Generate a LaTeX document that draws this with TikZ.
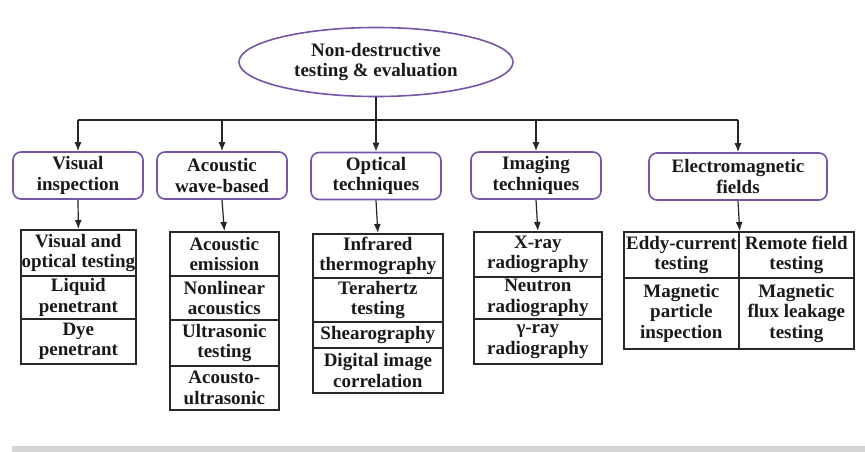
\documentclass[tikz,border=0pt]{standalone}
\usepackage{fontspec}
\setmainfont{Liberation Serif}
\usetikzlibrary{arrows.meta,shapes.geometric}
\definecolor{catpurple}{RGB}{118,84,168}
\definecolor{cellline}{RGB}{40,40,40}
\begin{document}
\begin{tikzpicture}[x=1pt,y=-1pt,
  txt/.style={font=\fontsize{19}{20.5}\selectfont\bfseries, align=center, text=black!90},
  rootnode/.style={txt, ellipse, draw=catpurple, line width=1.6pt, minimum width=274pt, minimum height=69pt, inner sep=0pt},
  catbox/.style={txt, draw=catpurple, line width=1.6pt, rounded corners=8pt, minimum height=47pt, inner sep=0pt},
  cell/.style={txt, draw=cellline, line width=1.7pt, inner sep=0pt, anchor=north west},
  conn/.style={draw=black!85, line width=1.2pt},
  arr/.style={conn, -{Latex[length=9pt,width=7pt]}}
]
\useasboundingbox (0,0) rectangle (865,452);
\fill[gray!32] (12,446) rectangle (865,452);

% root
\node[rootnode] (root) at (376,62) {Non-destructive\\testing \& evaluation};

% categories
\node[catbox, minimum width=130pt] (cVis) at (78,175.5) {Visual\\inspection};
\node[catbox, minimum width=130pt] (cAco) at (222,175.5) {Acoustic\\wave-based};
\node[catbox, minimum width=130pt] (cOpt) at (376,176) {Optical\\techniques};
\node[catbox, minimum width=130pt] (cImg) at (536,175.5) {Imaging\\techniques};
\node[catbox, minimum width=178pt] (cEM) at (738,176.5) {Electromagnetic\\fields};

% bus
\coordinate (busL) at (78,120);
\coordinate (busR) at (738,120);
\draw[conn] (root.south) -- (root.south |- busL);
\draw[conn] (busL) -- (busR);
\foreach \c in {cVis,cAco,cOpt,cImg,cEM}
  \draw[arr] (\c.north |- busL) -- (\c.north);

% Visual table
\node[cell, minimum width=115pt, minimum height=46pt] (v1) at (20,229) {Visual and\\optical testing};
\node[cell, minimum width=115pt, minimum height=43pt] (v2) at (20,275) {Liquid\\penetrant};
\node[cell, minimum width=115pt, minimum height=45pt] (v3) at (20,318) {Dye\\penetrant};

% Acoustic table
\node[cell, minimum width=109pt, minimum height=44pt] (a1) at (169,231) {Acoustic\\emission};
\node[cell, minimum width=109pt, minimum height=44pt] (a2) at (169,275) {Nonlinear\\acoustics};
\node[cell, minimum width=109pt, minimum height=46pt] (a3) at (169,319) {Ultrasonic\\testing};
\node[cell, minimum width=109pt, minimum height=44pt] (a4) at (169,365) {Acousto-\\ultrasonic};

% Optical table
\node[cell, minimum width=130pt, minimum height=44pt] (o1) at (312,233) {Infrared\\thermography};
\node[cell, minimum width=130pt, minimum height=44pt] (o2) at (312,277) {Terahertz\\testing};
\node[cell, minimum width=130pt, minimum height=26pt] (o3) at (312,321) {Shearography};
\node[cell, minimum width=130pt, minimum height=45pt] (o4) at (312,347) {Digital image\\correlation};

% Imaging table
\node[cell, minimum width=128pt, minimum height=45pt] (i1) at (473,231) {X-ray\\radiography};
\node[cell, minimum width=128pt, minimum height=42pt] (i2) at (473,276) {Neutron\\radiography};
\node[cell, minimum width=128pt, minimum height=45pt] (i3) at (473,318) {γ-ray\\radiography};

% EM table
\node[cell, minimum width=115pt, minimum height=46pt] (e1) at (623,231) {Eddy-current\\testing};
\node[cell, minimum width=115pt, minimum height=46pt] (e2) at (738,231) {Remote field\\testing};
\node[cell, minimum width=115pt, minimum height=71pt] (e3) at (623,277) {Magnetic\\particle\\inspection};
\node[cell, minimum width=115pt, minimum height=71pt] (e4) at (738,277) {Magnetic\\flux leakage\\testing};

% category -> table
\draw[arr] (cVis.south) -- (v1.north);
\draw[arr] (cAco.south) -- (a1.north);
\draw[arr] (cOpt.south) -- (o1.north);
\draw[arr] (cImg.south) -- (i1.north);
\draw[arr] (cEM.south) -- (e1.north east);
\end{tikzpicture}
\end{document}
